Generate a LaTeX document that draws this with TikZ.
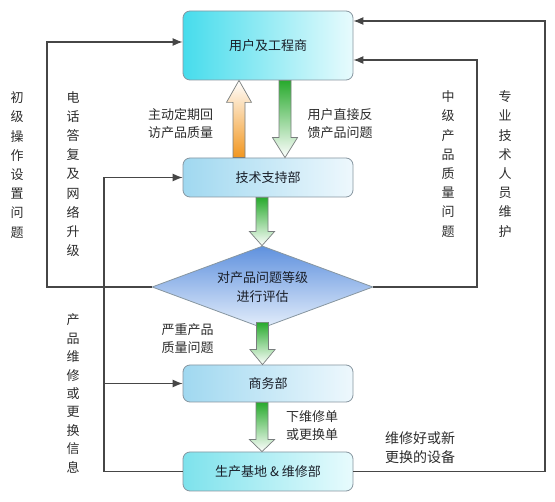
\documentclass[tikz,border=0pt]{standalone}
\usepackage{fontspec}
\setmainfont{Noto Sans CJK SC}
\usetikzlibrary{shapes.geometric,arrows.meta,calc}
\definecolor{boxborder}{RGB}{135,150,160}
\definecolor{lineclr}{RGB}{70,70,70}
\definecolor{txt}{RGB}{25,30,40}
\definecolor{lbl}{RGB}{45,45,45}
\definecolor{cyanA}{RGB}{70,220,236}
\definecolor{cyanB}{RGB}{232,251,253}
\definecolor{skyA}{RGB}{160,216,240}
\definecolor{skyB}{RGB}{238,248,253}
\definecolor{cyanC}{RGB}{125,226,236}
\definecolor{diaA}{RGB}{95,145,222}
\definecolor{diaB}{RGB}{228,238,251}
\definecolor{grn}{RGB}{40,170,45}
\definecolor{org}{RGB}{242,150,30}
\definecolor{arrowborder}{RGB}{120,125,125}
% vertical block arrow: #1 style, #2 start, #3 end, #4 head length
\newcommand\vblock[4]{%
  \path[#1] let \p1=(#2), \p2=(#3), \n1={sign(\y2-\y1)} in
    ({\x1-6pt},{\y1}) -- ({\x1-6pt},{\y2-(\n1)*#4}) -- ({\x1-12.5pt},{\y2-(\n1)*#4})
    -- ({\x1},{\y2}) -- ({\x1+12.5pt},{\y2-(\n1)*#4}) -- ({\x1+6pt},{\y2-(\n1)*#4})
    -- ({\x1+6pt},{\y1}) -- cycle;}
\begin{document}
\begin{tikzpicture}[x=1pt,y=-1pt,
  box/.style={draw=boxborder, line width=0.8pt, rounded corners=7pt,
    minimum width=170pt, inner sep=0pt, text=txt, font=\fontsize{13}{16}\selectfont},
  conn/.style={draw=lineclr, line width=1.1pt, -{Latex[length=10pt,width=8pt]}},
  lab/.style={inner sep=0pt, text=lbl, align=center, font=\fontsize{13}{18}\selectfont},
  vlab/.style={inner sep=0pt, text=lbl, align=center, font=\fontsize{13}{19.2}\selectfont},
  grnarrow/.style={draw=arrowborder, line width=0.7pt, top color=grn, middle color=grn!80!white, bottom color=white},
  orgarrow/.style={draw=arrowborder, line width=0.7pt, bottom color=org, middle color=org!75!white, top color=white}]
\useasboundingbox (0,0) rectangle (555,502);
\fill[white] (0,0) rectangle (555,502);

% boxes
\node[box, minimum height=69pt, left color=cyanA, right color=cyanB] (b1) at (268,45.5) {用户及工程商};
\node[box, minimum height=39pt, left color=skyA, right color=skyB] (b2) at (268,177.5) {技术支持部};
\node[draw=boxborder, line width=0.8pt, shape=diamond, aspect=2.76, minimum width=221pt,
  minimum height=82pt, inner sep=0pt, top color=diaA, bottom color=diaB, text=txt,
  align=center, font=\fontsize{13}{19}\selectfont] (dia) at (262.5,287) {对产品问题等级\\进行评估};
\node[box, minimum height=37pt, left color=skyA, right color=skyB] (b3) at (268,383.5) {商务部};
\node[box, minimum height=39pt, left color=cyanC, right color=cyanB] (b4) at (268,471.5) {生产基地 \& 维修部};

% block arrows
\vblock{orgarrow}{$(b2.north)+(-29,0)$}{$(b1.south)+(-29,0)$}{22pt}
\vblock{grnarrow}{$(b1.south)+(17,0)$}{$(b2.north)+(17,0)$}{20pt}
\vblock{grnarrow}{$(b2.south)+(-6,0)$}{$(dia.north)+(0,0)$}{14pt}
\vblock{grnarrow}{$(dia.south)+(0,-6)$}{$(b3.north)+(-6,0)$}{15pt}
\vblock{grnarrow}{$(b3.south)+(-6,0)$}{$(b4.north)+(-6,0)$}{12pt}

% connectors
\coordinate (xL) at (104,0);
\draw[conn] (dia.west) -| (47,42) -- (b1.west |- 0,42);
\draw[conn] (b4.west) -- (b4.west -| xL) |- (b2.west);
\draw[conn] (b3.west -| xL) -- (b3.west);
\draw[conn] (dia.east) -| (477,60) -- (b1.east |- 0,60);
\draw[conn] (b4.east) -| (545,21) -- (b1.east |- 0,21);

% labels
\node[lab] (l1) at (180.5,124) {主动定期回\\访产品质量};
\node[lab] (l2) at (340,124) {用户直接反\\馈产品问题};
\node[lab] (l3) at (187.5,339) {严重产品\\质量问题};
\node[lab] (l4) at (312,426) {下维修单\\或更换单};
\node[lab, font=\fontsize{14}{19}\selectfont] (l5) at (420,447.5) {维修好或新\\更换的设备};

\node[vlab] (v1) at (17,165) {初\\级\\操\\作\\设\\置\\问\\题};
\node[vlab] (v2) at (73,174) {电\\话\\答\\复\\及\\网\\络\\升\\级};
\node[vlab] (v3) at (448,164) {中\\级\\产\\品\\质\\量\\问\\题};
\node[vlab] (v4) at (505,164) {专\\业\\技\\术\\人\\员\\维\\护};
\node[vlab, font=\fontsize{13}{18.4}\selectfont] (v5) at (73,393.5) {产\\品\\维\\修\\或\\更\\换\\信\\息};
\end{tikzpicture}
\end{document}
